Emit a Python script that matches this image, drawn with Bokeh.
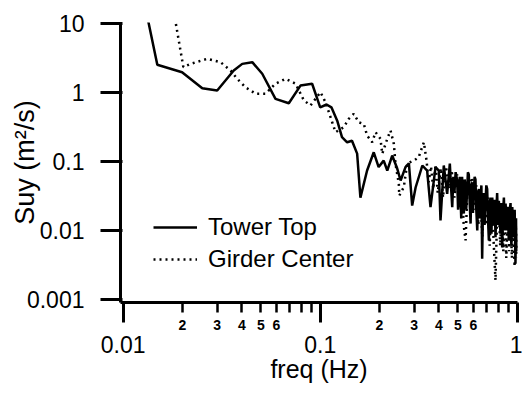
from bokeh.plotting import figure
from bokeh.models import (FixedTicker, Legend, LegendItem, CustomJSTickFormatter,
                          LogAxis)
from bokeh.embed import file_html
from bokeh.resources import INLINE

# ---------------- data ----------------
tower_f = [0.0133, 0.0149, 0.0199, 0.0252, 0.0300, 0.0364, 0.0402, 0.0452, 0.0508,
           0.0593, 0.0693, 0.0794, 0.0910, 0.1000, 0.1077, 0.1140, 0.1220, 0.1290,
           0.1370, 0.1450, 0.1540, 0.1600, 0.1730, 0.1870, 0.1980, 0.2100, 0.2190,
           0.2320, 0.2460, 0.2560, 0.2710, 0.2820, 0.2930, 0.3050, 0.3300, 0.3490,
           0.3630, 0.3850, 0.4000, 0.4080, 0.4240, 0.4410,
           0.455, 0.461, 0.468, 0.474, 0.480, 0.487, 0.496, 0.501, 0.506, 0.511,
           0.515, 0.520, 0.525, 0.530, 0.536, 0.541, 0.546, 0.551, 0.557, 0.562,
           0.568, 0.574, 0.580, 0.585, 0.591, 0.596, 0.602, 0.608, 0.614, 0.620,
           0.627, 0.633, 0.639, 0.645, 0.651, 0.658, 0.664, 0.670, 0.677, 0.683,
           0.690, 0.697, 0.704, 0.711, 0.718, 0.725, 0.732, 0.740, 0.747, 0.755,
           0.762, 0.769, 0.776, 0.784, 0.791, 0.799, 0.807, 0.815, 0.823, 0.831,
           0.839, 0.847, 0.856, 0.864, 0.873, 0.881, 0.889, 0.897, 0.906, 0.915,
           0.925, 0.934, 0.944, 0.953, 0.962, 0.971, 0.980, 0.985, 0.990, 0.995, 1.0]
tower_s = [12, 2.52, 1.97, 1.15, 1.07, 2.08, 2.6, 2.75, 1.87,
           0.81, 0.70, 1.26, 1.34, 0.61, 0.67, 0.61, 0.39, 0.225,
           0.19, 0.20, 0.13, 0.030, 0.074, 0.136, 0.083, 0.103, 0.074,
           0.122, 0.079, 0.053, 0.083, 0.094, 0.023, 0.042, 0.0875, 0.074,
           0.0218, 0.083, 0.074, 0.014, 0.0875, 0.034,
           0.093, 0.045, 0.0218, 0.06, 0.035, 0.07, 0.053, 0.02, 0.028, 0.06,
           0.034, 0.015, 0.06, 0.03, 0.0176, 0.055, 0.045, 0.02, 0.038, 0.07,
           0.065, 0.025, 0.0126, 0.045, 0.05, 0.018, 0.034, 0.06, 0.055, 0.02,
           0.010, 0.035, 0.04, 0.015, 0.030, 0.045, 0.0039, 0.02, 0.035, 0.012,
           0.0246, 0.045, 0.04, 0.015, 0.0072, 0.025, 0.03, 0.009, 0.030, 0.02,
           0.012, 0.028, 0.008, 0.02, 0.035, 0.012, 0.027, 0.015, 0.009, 0.025,
           0.0057, 0.018, 0.03, 0.01, 0.0246, 0.015, 0.01, 0.022, 0.0072, 0.018,
           0.025, 0.006, 0.0218, 0.012, 0.008, 0.02, 0.0033, 0.012, 0.015, 0.005, 0.009]

girder_f = [0.0183, 0.0202, 0.0220, 0.0267, 0.0312, 0.0351, 0.0379, 0.0418, 0.0470,
            0.0528, 0.0593, 0.0667, 0.0750, 0.0826, 0.0893, 0.1004, 0.1064, 0.1128,
            0.1196, 0.1318, 0.1397, 0.1480, 0.1570, 0.1665, 0.1730, 0.1836, 0.1910,
            0.2023, 0.2065, 0.2190, 0.2275, 0.2365, 0.2410, 0.2507, 0.2520, 0.2656,
            0.2767, 0.2986, 0.3160, 0.3360, 0.3466,
            0.355, 0.365, 0.375, 0.385, 0.395, 0.41, 0.42, 0.435, 0.45, 0.465, 0.48,
            0.495, 0.51, 0.525, 0.535, 0.547, 0.557, 0.573, 0.591, 0.605, 0.62, 0.635,
            0.65, 0.665, 0.68, 0.695, 0.71, 0.725, 0.74, 0.755, 0.766, 0.776, 0.79,
            0.805, 0.82, 0.835, 0.85, 0.865, 0.88, 0.895, 0.91, 0.925, 0.94, 0.955,
            0.97, 0.985, 1.0]
girder_s = [12, 2.33, 2.6, 3.08, 2.75, 2.08, 1.58, 1.19, 0.96,
            0.96, 1.34, 1.58, 1.34, 0.77, 0.65, 1.01, 0.72, 0.44,
            0.266, 0.314, 0.416, 0.49, 0.37, 0.35, 0.238, 0.19, 0.266,
            0.213, 0.129, 0.213, 0.281, 0.18, 0.093, 0.0475, 0.032, 0.0424,
            0.094, 0.103, 0.115, 0.19, 0.103,
            0.05, 0.085, 0.04, 0.09, 0.035, 0.08, 0.03, 0.085, 0.04, 0.075, 0.03,
            0.065, 0.025, 0.05, 0.012, 0.0072, 0.03, 0.045, 0.059, 0.02, 0.045, 0.012,
            0.04, 0.008, 0.035, 0.012, 0.03, 0.006, 0.028, 0.01, 0.004, 0.0019, 0.015,
            0.025, 0.006, 0.022, 0.005, 0.02, 0.004, 0.018, 0.005, 0.016, 0.004, 0.015,
            0.003, 0.012, 0.004]

x_major_ticks = [0.01, 0.1, 1]
x_minor_ticks = [0.02, 0.03, 0.04, 0.05, 0.06, 0.07, 0.08, 0.09,
                 0.2, 0.3, 0.4, 0.5, 0.6, 0.7, 0.8, 0.9]
x_minor_label_pos = [0.02, 0.03, 0.04, 0.05, 0.06, 0.2, 0.3, 0.4, 0.5, 0.6]
x_minor_label_txt = ["2", "3", "4", "5", "6", "2", "3", "4", "5", "6"]
y_major_ticks = [0.001, 0.01, 0.1, 1, 10]

series_names = ["Tower Top", "Girder Center"]

FONT = "Liberation Sans"

# ---------------- figure ----------------
p = figure(width=522, height=396, x_axis_type="log", y_axis_type="log",
           x_range=(0.00969, 1.0035), y_range=(0.000905, 10.34),
           output_backend="svg", toolbar_location=None,
           min_border_left=120, min_border_right=5, min_border_top=22,
           min_border_bottom=94)
p.xgrid.visible = False
p.ygrid.visible = False
p.outline_line_color = None
p.background_fill_color = "white"
p.border_fill_color = "white"

fmt = CustomJSTickFormatter(code="return String(parseFloat(tick.toPrecision(6)));")
blank_fmt = CustomJSTickFormatter(code="return '';")
minor_fmt = CustomJSTickFormatter(
    args=dict(pos=x_minor_label_pos, txt=x_minor_label_txt),
    code="""
    for (let i = 0; i < pos.length; i++) {
        if (Math.abs(tick - pos[i]) < 1e-9) { return txt[i]; }
    }
    return "";
""")

# axis 1 (next to frame): rule, long decade ticks and short 2..9 ticks, no labels
xa = p.xaxis[0]
xa.ticker = FixedTicker(ticks=x_major_ticks, minor_ticks=x_minor_ticks)
xa.formatter = blank_fmt
xa.axis_line_width = 3
xa.major_tick_line_width = 3
xa.minor_tick_line_width = 2.5
xa.minor_tick_line_color = "black"
xa.major_tick_out = 20
xa.major_tick_in = 0
xa.minor_tick_out = 10
xa.minor_tick_in = 0
xa.major_label_standoff = 0
xa.major_label_text_font_size = "0px"

# axis 2: the small "2 3 4 5 6" labels
xb = LogAxis(ticker=FixedTicker(ticks=x_minor_label_pos), formatter=minor_fmt)
xb.axis_line_color = None
xb.major_tick_line_color = None
xb.major_tick_in = 0
xb.major_tick_out = 0
xb.minor_tick_out = 0
xb.minor_tick_in = 0
xb.major_label_standoff = -3
xb.major_label_text_font = FONT
xb.major_label_text_font_size = "14px"
xb.major_label_text_font_style = "bold"
xb.major_label_text_color = "black"
p.add_layout(xb, "below")

# axis 3: decade labels and axis title
xc = LogAxis(ticker=FixedTicker(ticks=x_major_ticks), formatter=fmt)
xc.axis_line_color = None
xc.major_tick_line_color = None
xc.major_tick_in = 0
xc.major_tick_out = 0
xc.minor_tick_out = 0
xc.minor_tick_in = 0
xc.major_label_standoff = 3
xc.major_label_text_font = FONT
xc.major_label_text_font_size = "23px"
xc.major_label_text_color = "black"
xc.axis_label = "freq (Hz)"
xc.axis_label_text_font = FONT
xc.axis_label_text_font_size = "25px"
xc.axis_label_text_font_style = "normal"
xc.axis_label_text_color = "black"
xc.axis_label_standoff = -1
p.add_layout(xc, "below")

ya = p.yaxis[0]
ya.ticker = FixedTicker(ticks=y_major_ticks)
ya.formatter = fmt
ya.axis_line_width = 3
ya.major_tick_line_width = 3
ya.major_tick_out = 20
ya.major_tick_in = 2
ya.minor_tick_out = 0
ya.minor_tick_in = 0
ya.major_label_standoff = 16
ya.major_label_text_font = FONT
ya.major_label_text_font_size = "23px"
ya.major_label_text_color = "black"
ya.axis_label = "Suy (m²/s)"
ya.axis_label_text_font = FONT
ya.axis_label_text_font_size = "27px"
ya.axis_label_text_font_style = "normal"
ya.axis_label_text_color = "black"
ya.axis_label_standoff = -16

# ---------------- series ----------------
r1 = p.line(tower_f, tower_s, line_color="black", line_width=2.5)
r2 = p.line(girder_f, girder_s, line_color="black", line_width=2.5,
            line_dash="2 4")

legend = Legend(items=[LegendItem(label=series_names[0], renderers=[r1]),
                       LegendItem(label=series_names[1], renderers=[r2])],
                location=(33, 29), orientation="vertical",
                label_text_font=FONT, label_text_font_size="24px",
                label_text_color="black",
                glyph_width=44, glyph_height=24, label_standoff=11,
                spacing=4, padding=0, margin=0,
                border_line_alpha=0, background_fill_alpha=0)
p.add_layout(legend)

open("out.html", "w").write(file_html(p, INLINE))
